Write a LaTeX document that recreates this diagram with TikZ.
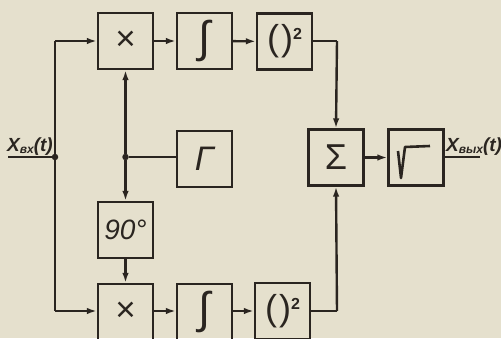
\documentclass[tikz,border=0pt]{standalone}
\usepackage{fontspec}
\setmainfont{Liberation Sans}
\usetikzlibrary{arrows.meta}
\definecolor{paper}{HTML}{E5E0CD}
\definecolor{ink}{HTML}{2A2520}
\begin{document}
\begin{tikzpicture}[x=1pt,y=-1pt,
 blk/.style={draw=ink, line width=2.3pt, minimum width=55pt, minimum height=56pt, inner sep=0pt, text=ink},
 con/.style={draw=ink, line width=2.4pt},
 arr/.style={con, -{Latex[length=10pt,width=6.5pt]}},
 dotn/.style={circle, fill=ink, inner sep=0pt, minimum size=6.5pt},
 sym/.style={font=\fontsize{35}{37}\selectfont},
 lbl/.style={text=ink, inner sep=0pt, anchor=base west, font=\fontsize{19}{20}\selectfont\itshape\bfseries}]
\fill[paper] (0,0) rectangle (501,338);
\useasboundingbox (0,0) rectangle (501,338);
% blocks
\node[blk, sym] (mulT) at (125.5,41) {×};
\node[blk] (intT) at (204.5,41) {\fontsize{44}{44}\selectfont ∫};
\node[blk] (sqT) at (284.5,41.5) {\fontsize{36}{38}\selectfont (\kern2pt)\raisebox{11pt}{\fontsize{16}{16}\selectfont\bfseries 2}};
\node[blk] (gam) at (204.5,159) {\fontsize{34}{36}\selectfont\itshape Γ};
\node[blk] (sum) at (336,157.5) {\fontsize{36}{38}\selectfont Σ};
\node[blk] (sqrt) at (416,157.5) {};
\node[blk] (ph) at (125.5,230) {\fontsize{28}{30}\selectfont\itshape 90°};
\node[blk, sym] (mulB) at (125.5,312) {×};
\node[blk] (intB) at (204.5,312) {\fontsize{44}{44}\selectfont ∫};
\node[blk] (sqB) at (282.5,311) {\fontsize{36}{38}\selectfont (\kern2pt)\raisebox{11pt}{\fontsize{16}{16}\selectfont\bfseries 2}};
% radical symbol
\draw[ink, line width=2.6pt, line join=round] ([shift={(-18,-6.5)}]sqrt.center) -- ([shift={(-15,20.5)}]sqrt.center) -- ([shift={(-11,-10.5)}]sqrt.center) -- ([shift={(14,-11.5)}]sqrt.center);
% junction points
\coordinate (in) at (8,157);
\node[dotn] (d1) at (55,157) {};
\node[dotn] (d2) at (125.5,157) {};
\coordinate (lt) at (55,41);
\coordinate (lb) at (55,311);
\coordinate (rt) at (337,41);
\coordinate (rb) at (337,311);
\coordinate (out) at (480,157);
% connectors
\draw[con] (in) -- (d1);
\draw[con] (lt) -- (lb);
\draw[arr] (lt) -- (mulT.west);
\draw[arr] (lb) -- (mulB.west |- lb);
\draw[arr] (d2) -- (mulT.south);
\draw[arr] (d2) -- (ph.north);
\draw[con] (d2) -- (gam.west |- d2);
\draw[arr] (ph.south) -- (mulB.north);
\draw[arr] (mulT) -- (intT);
\draw[arr] (intT) -- (sqT);
\draw[arr] (mulB.east |- lb) -- (intB.west |- lb);
\draw[arr] (intB.east |- lb) -- (sqB.west |- lb);
\draw[con] (sqT.east |- lt) -- (rt);
\draw[arr] (rt) -- (sum.north);
\draw[con] (sqB.east |- lb) -- (rb);
\draw[arr] (rb) -- (sum.south);
\draw[arr] (sum) -- (sqrt);
\draw[con] (sqrt.east |- out) -- (out);
% labels
\node[lbl] (lin) at (7,151) {X\raisebox{-2pt}{\fontsize{12}{12}\selectfont вх}(t)};
\node[lbl] (lout) at (446,151) {X\raisebox{-2pt}{\fontsize{12}{12}\selectfont вых}(t)};
\end{tikzpicture}
\end{document}
